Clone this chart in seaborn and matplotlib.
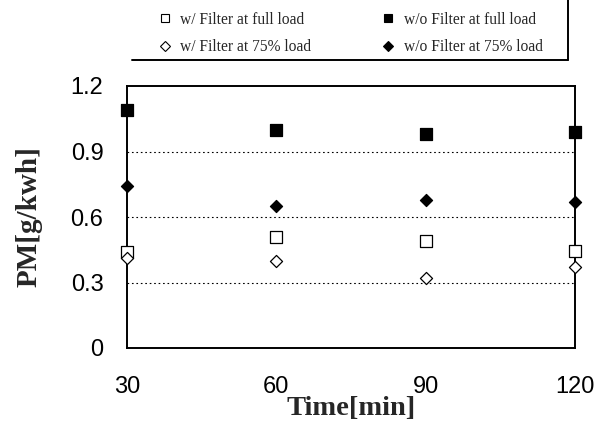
import matplotlib
matplotlib.use("Agg")
import matplotlib.pyplot as plt
import seaborn as sns
import pandas as pd

time_min = [30, 60, 90, 120]
wf_full = [0.44, 0.51, 0.49, 0.445]
wof_full = [1.09, 1.00, 0.98, 0.99]
wf_75 = [0.41, 0.40, 0.32, 0.37]
wof_75 = [0.74, 0.65, 0.68, 0.67]
series_names = ["w/ Filter at full load", "w/o Filter at full load",
                "w/ Filter at 75% load", "w/o Filter at 75% load"]
y_ticks = [0, 0.3, 0.6, 0.9, 1.2]
y_tick_labels = ["0", "0.3", "0.6", "0.9", "1.2"]
x_ticks = [30, 60, 90, 120]

sns.set_theme(style="white")
plt.rcParams['font.family'] = ['Liberation Sans', 'DejaVu Sans']

rows = []
for name, vals in zip(series_names, [wf_full, wof_full, wf_75, wof_75]):
    for t, v in zip(time_min, vals):
        rows.append({"Time": t, "PM": v, "Series": name})
df = pd.DataFrame(rows)

W, H = 611, 426
fig = plt.figure(figsize=(W / 100, H / 100), dpi=100)
ax = fig.add_axes([127 / W, 1 - 348 / H, (575 - 127) / W, (348 - 86) / H])

styles = {
    "w/ Filter at full load": dict(marker="s", fc="white", s=75),
    "w/o Filter at full load": dict(marker="s", fc="black", s=75),
    "w/ Filter at 75% load": dict(marker="D", fc="white", s=38),
    "w/o Filter at 75% load": dict(marker="D", fc="black", s=38),
}
handles = []
for name in series_names:
    st = styles[name]
    sub = df[df["Series"] == name]
    sns.scatterplot(data=sub, x="Time", y="PM", ax=ax, marker=st["marker"],
                    s=st["s"], color=st["fc"], edgecolor="black", linewidth=0.9,
                    clip_on=False, zorder=5, legend=False)
    handles.append(plt.Line2D([], [], ls="none", marker=st["marker"],
                              markerfacecolor=st["fc"], markeredgecolor="black",
                              markersize=6 if st["marker"] == "s" else 5,
                              markeredgewidth=0.8, label=name))

ax.set_xlim(30, 120)
ax.set_ylim(0, 1.2)
ax.set_xticks(x_ticks)
ax.set_yticks(y_ticks)
ax.set_yticklabels(y_tick_labels)
ax.tick_params(axis="both", length=0, labelsize=17, colors="black")
ax.tick_params(axis="x", pad=20)
ax.tick_params(axis="y", pad=17)
for yv in [0.3, 0.6, 0.9]:
    ax.axhline(yv, color="black", ls=(0, (1.5, 2.5)), lw=0.8, zorder=1)
for sp in ax.spines.values():
    sp.set_visible(True)
    sp.set_color("black")
    sp.set_linewidth(1.4)

ax.set_xlabel("Time[min]", fontsize=20.5, fontweight="bold",
              family="Liberation Serif", labelpad=-1)
ax.set_ylabel("PM[g/kwh]", fontsize=21, fontweight="bold",
              family="Liberation Serif", labelpad=20)

# legend (frame partly cut off in the original: only bottom and right edges)
order = [handles[0], handles[2], handles[1], handles[3]]
leg = fig.legend(handles=order, loc="center left", ncol=2,
                 bbox_to_anchor=(149 / W, 1 - 33.5 / H), frameon=False,
                 prop={"family": "Liberation Serif", "size": 11.2},
                 columnspacing=4.45, handletextpad=0.5, borderpad=0,
                 labelspacing=0.74, handlelength=1.0)
fig.add_artist(plt.Line2D([132 / W, 568 / W], [1 - 60 / H, 1 - 60 / H],
                          transform=fig.transFigure, color="black", lw=1.4))
fig.add_artist(plt.Line2D([568 / W, 568 / W], [1 - 60 / H, 1.0],
                          transform=fig.transFigure, color="black", lw=1.4))

fig.savefig("out.png", dpi=100)
